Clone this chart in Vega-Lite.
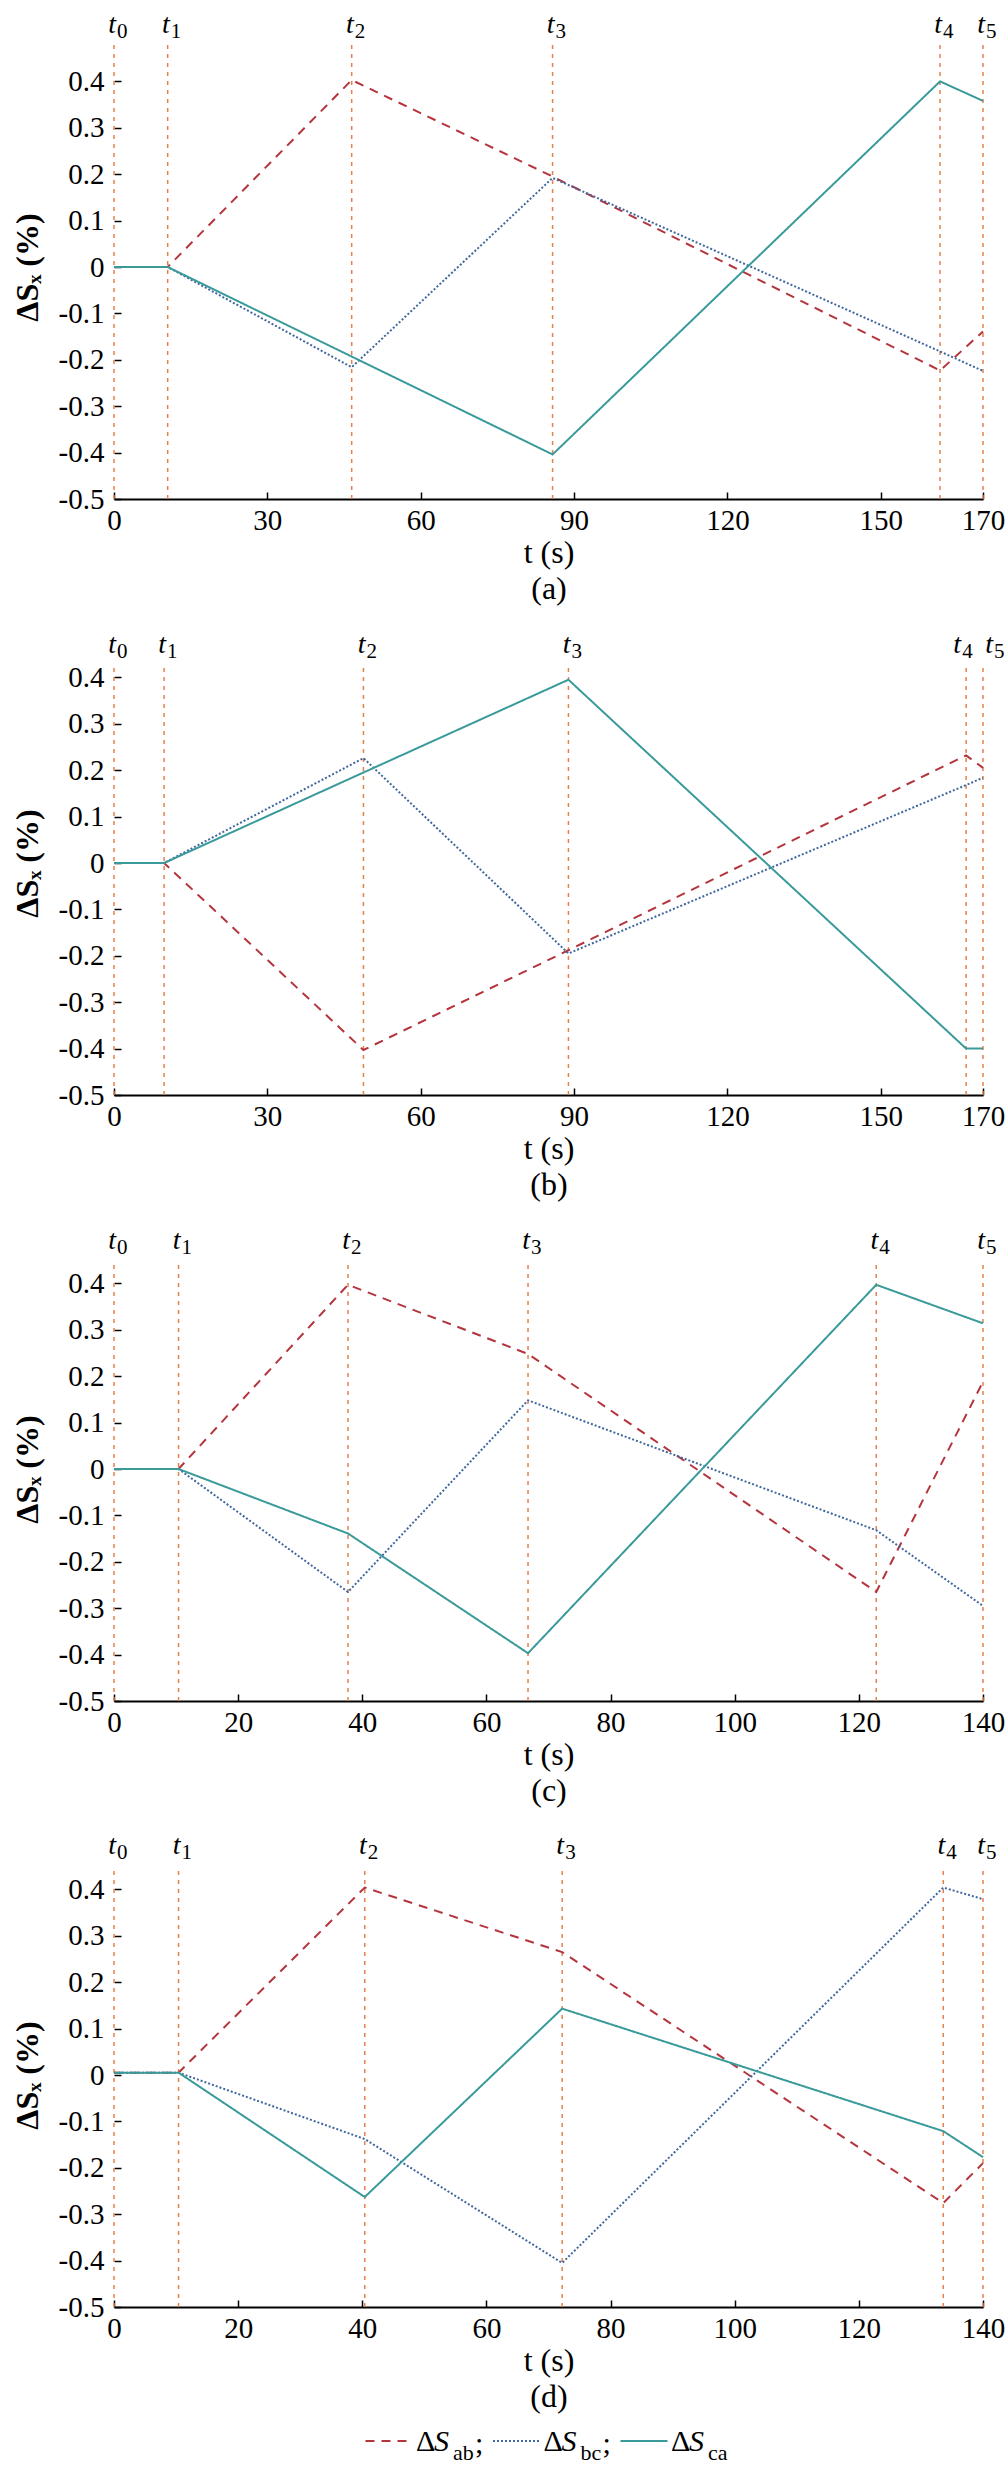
{
  "$schema": "https://vega.github.io/schema/vega-lite/v6.json",
  "description": "Line-to-line unbalance ΔSab, ΔSbc, ΔSca over time in four switching cases (a)-(d).",
  "padding": {"left": 11, "top": 10, "right": 5, "bottom": 0},
  "background": "white",
  "config": {
    "font": "Liberation Serif",
    "view": {"stroke": null},
    "axis": {
      "labelFont": "Liberation Serif",
      "labelFontSize": 29,
      "labelColor": "black",
      "titleFont": "Liberation Serif",
      "titleFontSize": 32,
      "titleColor": "black",
      "tickColor": "black",
      "tickWidth": 1.5,
      "tickSize": -7,
      "grid": false,
      "domainColor": "black",
      "domainWidth": 2,
      "labelFlush": false
    },
    "axisX": {"labelPadding": 14, "titleFontWeight": "normal", "titlePadding": 2, "titleLineHeight": 36},
    "axisY": {"domain": false, "labelPadding": 17, "titlePadding": 14},
    "text": {"color": "black", "font": "Liberation Serif"}
  },
  "datasets": {
    "a": [
      {"t": 0, "series": "ab", "value": 0}, {"t": 10.5, "series": "ab", "value": 0}, {"t": 46.5, "series": "ab", "value": 0.403}, {"t": 85.8, "series": "ab", "value": 0.195}, {"t": 161.6, "series": "ab", "value": -0.223}, {"t": 170, "series": "ab", "value": -0.139},
      {"t": 0, "series": "bc", "value": 0}, {"t": 10.5, "series": "bc", "value": 0}, {"t": 46.5, "series": "bc", "value": -0.216}, {"t": 85.8, "series": "bc", "value": 0.192}, {"t": 161.6, "series": "bc", "value": -0.182}, {"t": 170, "series": "bc", "value": -0.224},
      {"t": 0, "series": "ca", "value": 0}, {"t": 10.5, "series": "ca", "value": 0}, {"t": 46.5, "series": "ca", "value": -0.193}, {"t": 85.8, "series": "ca", "value": -0.404}, {"t": 161.6, "series": "ca", "value": 0.4}, {"t": 170, "series": "ca", "value": 0.358}
    ],
    "ta": [{"name": "0", "t": 0}, {"name": "1", "t": 10.5}, {"name": "2", "t": 46.5}, {"name": "3", "t": 85.8}, {"name": "4", "t": 161.6}, {"name": "5", "t": 170}],
    "b": [
      {"t": 0, "series": "ab", "value": 0}, {"t": 9.8, "series": "ab", "value": 0}, {"t": 48.8, "series": "ab", "value": -0.403}, {"t": 88.9, "series": "ab", "value": -0.188}, {"t": 166.7, "series": "ab", "value": 0.232}, {"t": 170, "series": "ab", "value": 0.205},
      {"t": 0, "series": "bc", "value": 0}, {"t": 9.8, "series": "bc", "value": 0}, {"t": 48.8, "series": "bc", "value": 0.226}, {"t": 88.9, "series": "bc", "value": -0.195}, {"t": 166.7, "series": "bc", "value": 0.168}, {"t": 170, "series": "bc", "value": 0.184},
      {"t": 0, "series": "ca", "value": 0}, {"t": 9.8, "series": "ca", "value": 0}, {"t": 48.8, "series": "ca", "value": 0.195}, {"t": 88.9, "series": "ca", "value": 0.395}, {"t": 166.7, "series": "ca", "value": -0.4}, {"t": 170, "series": "ca", "value": -0.4}
    ],
    "tb": [{"name": "0", "t": 0}, {"name": "1", "t": 9.8}, {"name": "2", "t": 48.8}, {"name": "3", "t": 88.9}, {"name": "4", "t": 166.7}, {"name": "5", "t": 170}],
    "c": [
      {"t": 0, "series": "ab", "value": 0}, {"t": 10.4, "series": "ab", "value": 0}, {"t": 37.7, "series": "ab", "value": 0.397}, {"t": 66.7, "series": "ab", "value": 0.248}, {"t": 122.8, "series": "ab", "value": -0.265}, {"t": 140, "series": "ab", "value": 0.188},
      {"t": 0, "series": "bc", "value": 0}, {"t": 10.4, "series": "bc", "value": 0}, {"t": 37.7, "series": "bc", "value": -0.265}, {"t": 66.7, "series": "bc", "value": 0.148}, {"t": 122.8, "series": "bc", "value": -0.132}, {"t": 140, "series": "bc", "value": -0.295},
      {"t": 0, "series": "ca", "value": 0}, {"t": 10.4, "series": "ca", "value": 0}, {"t": 37.7, "series": "ca", "value": -0.139}, {"t": 66.7, "series": "ca", "value": -0.397}, {"t": 122.8, "series": "ca", "value": 0.397}, {"t": 140, "series": "ca", "value": 0.314}
    ],
    "tc": [{"name": "0", "t": 0}, {"name": "1", "t": 10.4}, {"name": "2", "t": 37.7}, {"name": "3", "t": 66.7}, {"name": "4", "t": 122.8}, {"name": "5", "t": 140}],
    "d": [
      {"t": 0, "series": "ab", "value": 0.005}, {"t": 10.4, "series": "ab", "value": 0.005}, {"t": 40.4, "series": "ab", "value": 0.404}, {"t": 72.2, "series": "ab", "value": 0.265}, {"t": 133.6, "series": "ab", "value": -0.276}, {"t": 140, "series": "ab", "value": -0.19},
      {"t": 0, "series": "bc", "value": 0.005}, {"t": 10.4, "series": "bc", "value": 0.005}, {"t": 40.4, "series": "bc", "value": -0.138}, {"t": 72.2, "series": "bc", "value": -0.405}, {"t": 133.6, "series": "bc", "value": 0.404}, {"t": 140, "series": "bc", "value": 0.379},
      {"t": 0, "series": "ca", "value": 0.005}, {"t": 10.4, "series": "ca", "value": 0.005}, {"t": 40.4, "series": "ca", "value": -0.263}, {"t": 72.2, "series": "ca", "value": 0.143}, {"t": 133.6, "series": "ca", "value": -0.121}, {"t": 140, "series": "ca", "value": -0.177}
    ],
    "td": [{"name": "0", "t": 0}, {"name": "1", "t": 10.4}, {"name": "2", "t": 40.4}, {"name": "3", "t": 72.2}, {"name": "4", "t": 133.6}, {"name": "5", "t": 140}],
    "leg": [{"order": 0, "series": "ab", "sep": ";"}, {"order": 1, "series": "bc", "sep": ";"}, {"order": 2, "series": "ca", "sep": ""}]
  },
  "vconcat": [
    {
      "vconcat": [
        {
          "width": 869,
          "height": 464,
          "layer": [
            {"mark": {"type": "rule", "color": "black", "strokeWidth": 2}, "encoding": {"x": {"datum": 0, "type": "quantitative"}, "y": {"datum": -0.5, "type": "quantitative"}, "y2": {"datum": 0.4}}},
            {"data": {"name": "ta"}, "mark": {"type": "rule", "color": "#e6814b", "strokeWidth": 1.5, "strokeDash": [4, 5]}, "encoding": {"x": {"field": "t", "type": "quantitative"}, "y": {"datum": -0.5, "type": "quantitative"}, "y2": {"datum": 0.484}}},
            {
              "data": {"name": "a"},
              "mark": {"type": "line", "strokeWidth": 2},
              "encoding": {
                "x": {"field": "t", "type": "quantitative", "scale": {"domain": [0, 170], "nice": false}, "axis": {"values": [0, 30, 60, 90, 120, 150, 170], "title": ["t (s)", "(a)"]}},
                "y": {"field": "value", "type": "quantitative", "scale": {"domain": [-0.5, 0.5], "nice": false}, "axis": {"values": [-0.5, -0.4, -0.3, -0.2, -0.1, 0, 0.1, 0.2, 0.3, 0.4], "labelExpr": "toString(round(datum.value * 10) / 10)", "title": "ΔSₓ (%)"}},
                "color": {"field": "series", "type": "nominal", "scale": {"domain": ["ab", "bc", "ca"], "range": ["#b4353d", "#40679e", "#3a9a9a"]}, "legend": null},
                "strokeDash": {"field": "series", "type": "nominal", "scale": {"domain": ["ab", "bc", "ca"], "range": [[9, 7], [2, 2], [1, 0]]}, "legend": null}
              }
            },
            {"data": {"name": "ta"}, "mark": {"type": "text", "text": "t", "fontStyle": "italic", "fontSize": 28, "align": "right", "baseline": "alphabetic", "dx": 2}, "encoding": {"x": {"field": "t", "type": "quantitative"}, "y": {"datum": 0.505, "type": "quantitative"}}},
            {"data": {"name": "ta"}, "mark": {"type": "text", "fontSize": 21, "align": "left", "baseline": "alphabetic", "dx": 3, "dy": 5}, "encoding": {"x": {"field": "t", "type": "quantitative"}, "y": {"datum": 0.505, "type": "quantitative"}, "text": {"field": "name"}}}
          ]
        },
        {
          "width": 869,
          "height": 464,
          "layer": [
            {"mark": {"type": "rule", "color": "black", "strokeWidth": 2}, "encoding": {"x": {"datum": 0, "type": "quantitative"}, "y": {"datum": -0.5, "type": "quantitative"}, "y2": {"datum": 0.4}}},
            {"data": {"name": "tb"}, "mark": {"type": "rule", "color": "#e6814b", "strokeWidth": 1.5, "strokeDash": [4, 5]}, "encoding": {"x": {"field": "t", "type": "quantitative"}, "y": {"datum": -0.5, "type": "quantitative"}, "y2": {"datum": 0.428}}},
            {
              "data": {"name": "b"},
              "mark": {"type": "line", "strokeWidth": 2},
              "encoding": {
                "x": {"field": "t", "type": "quantitative", "scale": {"domain": [0, 170], "nice": false}, "axis": {"values": [0, 30, 60, 90, 120, 150, 170], "title": ["t (s)", "(b)"]}},
                "y": {"field": "value", "type": "quantitative", "scale": {"domain": [-0.5, 0.5], "nice": false}, "axis": {"values": [-0.5, -0.4, -0.3, -0.2, -0.1, 0, 0.1, 0.2, 0.3, 0.4], "labelExpr": "toString(round(datum.value * 10) / 10)", "title": "ΔSₓ (%)"}},
                "color": {"field": "series", "type": "nominal", "scale": {"domain": ["ab", "bc", "ca"], "range": ["#b4353d", "#40679e", "#3a9a9a"]}, "legend": null},
                "strokeDash": {"field": "series", "type": "nominal", "scale": {"domain": ["ab", "bc", "ca"], "range": [[9, 7], [2, 2], [1, 0]]}, "legend": null}
              }
            },
            {"data": {"name": "tb"}, "transform": [{"filter": "datum.name != '4' && datum.name != '5'"}], "mark": {"type": "text", "text": "t", "fontStyle": "italic", "fontSize": 28, "align": "right", "baseline": "alphabetic", "dx": 2}, "encoding": {"x": {"field": "t", "type": "quantitative"}, "y": {"datum": 0.453, "type": "quantitative"}}},
            {"data": {"name": "tb"}, "transform": [{"filter": "datum.name != '4' && datum.name != '5'"}], "mark": {"type": "text", "fontSize": 21, "align": "left", "baseline": "alphabetic", "dx": 3, "dy": 5}, "encoding": {"x": {"field": "t", "type": "quantitative"}, "y": {"datum": 0.453, "type": "quantitative"}, "text": {"field": "name"}}},
            {"data": {"name": "tb"}, "transform": [{"filter": "datum.name == '4'"}], "mark": {"type": "text", "text": "t", "fontStyle": "italic", "fontSize": 28, "align": "right", "baseline": "alphabetic", "dx": -5}, "encoding": {"x": {"field": "t", "type": "quantitative"}, "y": {"datum": 0.453, "type": "quantitative"}}},
            {"data": {"name": "tb"}, "transform": [{"filter": "datum.name == '4'"}], "mark": {"type": "text", "fontSize": 21, "align": "left", "baseline": "alphabetic", "dx": -4, "dy": 5}, "encoding": {"x": {"field": "t", "type": "quantitative"}, "y": {"datum": 0.453, "type": "quantitative"}, "text": {"field": "name"}}},
            {"data": {"name": "tb"}, "transform": [{"filter": "datum.name == '5'"}], "mark": {"type": "text", "text": "t", "fontStyle": "italic", "fontSize": 28, "align": "right", "baseline": "alphabetic", "dx": 10}, "encoding": {"x": {"field": "t", "type": "quantitative"}, "y": {"datum": 0.453, "type": "quantitative"}}},
            {"data": {"name": "tb"}, "transform": [{"filter": "datum.name == '5'"}], "mark": {"type": "text", "fontSize": 21, "align": "left", "baseline": "alphabetic", "dx": 11, "dy": 5}, "encoding": {"x": {"field": "t", "type": "quantitative"}, "y": {"datum": 0.453, "type": "quantitative"}, "text": {"field": "name"}}}
          ]
        },
        {
          "width": 869,
          "height": 464,
          "layer": [
            {"mark": {"type": "rule", "color": "black", "strokeWidth": 2}, "encoding": {"x": {"datum": 0, "type": "quantitative"}, "y": {"datum": -0.5, "type": "quantitative"}, "y2": {"datum": 0.4}}},
            {"data": {"name": "tc"}, "mark": {"type": "rule", "color": "#e6814b", "strokeWidth": 1.5, "strokeDash": [4, 5]}, "encoding": {"x": {"field": "t", "type": "quantitative"}, "y": {"datum": -0.5, "type": "quantitative"}, "y2": {"datum": 0.449}}},
            {
              "data": {"name": "c"},
              "mark": {"type": "line", "strokeWidth": 2},
              "encoding": {
                "x": {"field": "t", "type": "quantitative", "scale": {"domain": [0, 140], "nice": false}, "axis": {"values": [0, 20, 40, 60, 80, 100, 120, 140], "title": ["t (s)", "(c)"]}},
                "y": {"field": "value", "type": "quantitative", "scale": {"domain": [-0.5, 0.5], "nice": false}, "axis": {"values": [-0.5, -0.4, -0.3, -0.2, -0.1, 0, 0.1, 0.2, 0.3, 0.4], "labelExpr": "toString(round(datum.value * 10) / 10)", "title": "ΔSₓ (%)"}},
                "color": {"field": "series", "type": "nominal", "scale": {"domain": ["ab", "bc", "ca"], "range": ["#b4353d", "#40679e", "#3a9a9a"]}, "legend": null},
                "strokeDash": {"field": "series", "type": "nominal", "scale": {"domain": ["ab", "bc", "ca"], "range": [[9, 7], [2, 2], [1, 0]]}, "legend": null}
              }
            },
            {"data": {"name": "tc"}, "mark": {"type": "text", "text": "t", "fontStyle": "italic", "fontSize": 28, "align": "right", "baseline": "alphabetic", "dx": 2}, "encoding": {"x": {"field": "t", "type": "quantitative"}, "y": {"datum": 0.475, "type": "quantitative"}}},
            {"data": {"name": "tc"}, "mark": {"type": "text", "fontSize": 21, "align": "left", "baseline": "alphabetic", "dx": 3, "dy": 5}, "encoding": {"x": {"field": "t", "type": "quantitative"}, "y": {"datum": 0.475, "type": "quantitative"}, "text": {"field": "name"}}}
          ]
        },
        {
          "width": 869,
          "height": 464,
          "layer": [
            {"mark": {"type": "rule", "color": "black", "strokeWidth": 2}, "encoding": {"x": {"datum": 0, "type": "quantitative"}, "y": {"datum": -0.5, "type": "quantitative"}, "y2": {"datum": 0.4}}},
            {"data": {"name": "td"}, "mark": {"type": "rule", "color": "#e6814b", "strokeWidth": 1.5, "strokeDash": [4, 5]}, "encoding": {"x": {"field": "t", "type": "quantitative"}, "y": {"datum": -0.5, "type": "quantitative"}, "y2": {"datum": 0.447}}},
            {
              "data": {"name": "d"},
              "mark": {"type": "line", "strokeWidth": 2},
              "encoding": {
                "x": {"field": "t", "type": "quantitative", "scale": {"domain": [0, 140], "nice": false}, "axis": {"values": [0, 20, 40, 60, 80, 100, 120, 140], "title": ["t (s)", "(d)"]}},
                "y": {"field": "value", "type": "quantitative", "scale": {"domain": [-0.5, 0.5], "nice": false}, "axis": {"values": [-0.5, -0.4, -0.3, -0.2, -0.1, 0, 0.1, 0.2, 0.3, 0.4], "labelExpr": "toString(round(datum.value * 10) / 10)", "title": "ΔSₓ (%)"}},
                "color": {"field": "series", "type": "nominal", "scale": {"domain": ["ab", "bc", "ca"], "range": ["#b4353d", "#40679e", "#3a9a9a"]}, "legend": null},
                "strokeDash": {"field": "series", "type": "nominal", "scale": {"domain": ["ab", "bc", "ca"], "range": [[9, 7], [2, 2], [1, 0]]}, "legend": null}
              }
            },
            {"data": {"name": "td"}, "mark": {"type": "text", "text": "t", "fontStyle": "italic", "fontSize": 28, "align": "right", "baseline": "alphabetic", "dx": 2}, "encoding": {"x": {"field": "t", "type": "quantitative"}, "y": {"datum": 0.476, "type": "quantitative"}}},
            {"data": {"name": "td"}, "mark": {"type": "text", "fontSize": 21, "align": "left", "baseline": "alphabetic", "dx": 3, "dy": 5}, "encoding": {"x": {"field": "t", "type": "quantitative"}, "y": {"datum": 0.476, "type": "quantitative"}, "text": {"field": "name"}}}
          ]
        }
      ],
      "spacing": 26
    },
    {
      "width": 869,
      "height": 20,
      "data": {"name": "leg"},
      "encoding": {
        "x": {"field": "order", "type": "quantitative", "scale": {"domain": [-2.157, 4.659], "nice": false, "zero": false}, "axis": null}
      },
      "layer": [
        {
          "mark": {"type": "point", "shape": "M-1,0H1", "size": 2209, "filled": false, "strokeWidth": 2, "opacity": 1},
          "encoding": {
            "color": {"field": "series", "type": "nominal", "scale": {"domain": ["ab", "bc", "ca"], "range": ["#b4353d", "#40679e", "#3a9a9a"]}, "legend": null},
            "strokeDash": {"field": "series", "type": "nominal", "scale": {"domain": ["ab", "bc", "ca"], "range": [[9, 7], [2, 2], [1, 0]]}, "legend": null}
          }
        },
        {"mark": {"type": "text", "text": "Δ", "fontSize": 30, "align": "left", "baseline": "alphabetic", "dx": 27, "dy": 10}},
        {"mark": {"type": "text", "text": "S", "fontSize": 30, "fontStyle": "italic", "align": "left", "baseline": "alphabetic", "dx": 45, "dy": 10}},
        {"mark": {"type": "text", "fontSize": 22, "align": "left", "baseline": "alphabetic", "dx": 64, "dy": 19}, "encoding": {"text": {"field": "series"}}},
        {"mark": {"type": "text", "fontSize": 30, "align": "left", "baseline": "alphabetic", "dx": 86, "dy": 12}, "encoding": {"text": {"field": "sep"}}}
      ]
    }
  ],
  "spacing": 15
}
